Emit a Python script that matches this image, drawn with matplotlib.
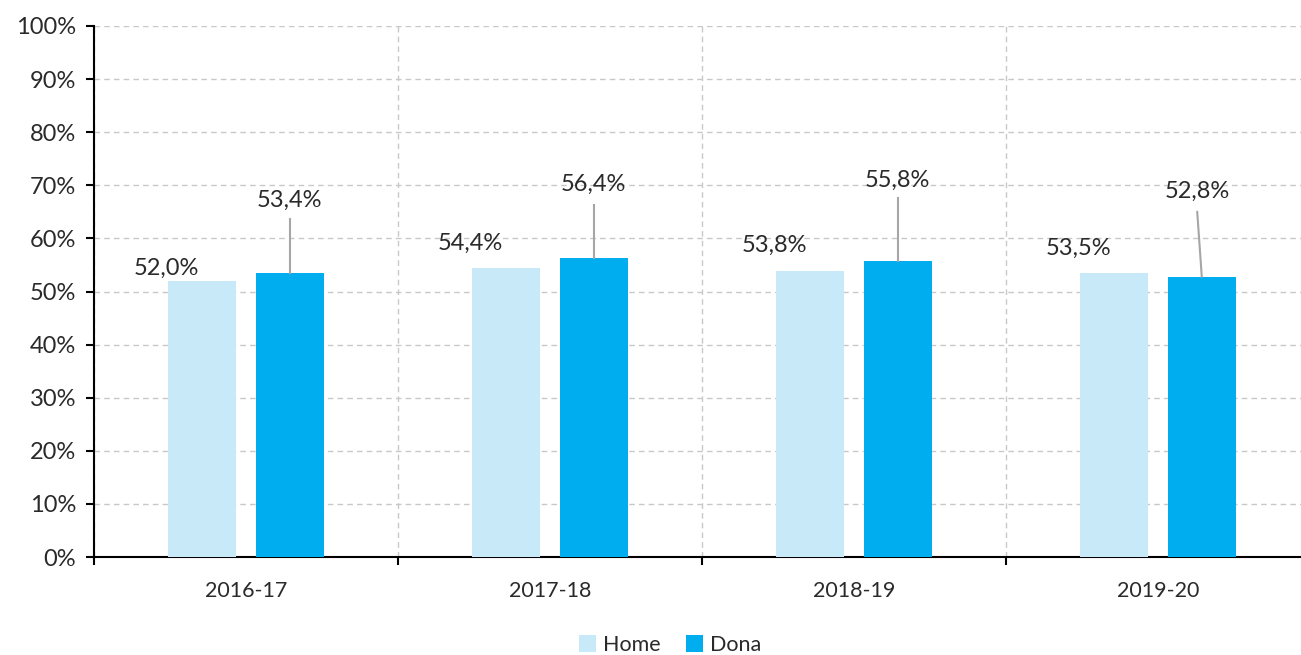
import matplotlib
matplotlib.use('Agg')
import matplotlib.pyplot as plt
import numpy as np

years = ['2016-17', '2017-18', '2018-19', '2019-20']
home = [52.0, 54.4, 53.8, 53.5]
dona = [53.4, 56.4, 55.8, 52.8]

# label placement (percent units)
home_label_y = [54.4, 59.1, 58.7, 58.1]
dona_label_y = [67.2, 70.1, 71.0, 68.9]
dona_line_top = [63.6, 66.3, 67.6, 65.0]
dona_label_dx = [0.0, 0.0, 0.0, -0.015]

plt.rcParams['font.family'] = ['Lato', 'DejaVu Sans']
txt = '#2a2a2a'

fig = plt.figure(figsize=(13.01, 6.55), dpi=100)
ax = fig.add_axes([94 / 1301, 1 - 557 / 655, 1216 / 1301, 531 / 655])

x = np.arange(len(years))
w = 0.224
off = 0.144
ax.bar(x - off, home, w, color='#C7E9F8', label='Home', zorder=3)
ax.bar(x + off, dona, w, color='#00AEEF', label='Dona', zorder=3)

fmt = lambda v: ('%.1f%%' % v).replace('.', ',')
for i in range(len(years)):
    ax.text(x[i] - off - 0.118, home_label_y[i], fmt(home[i]), ha='center', va='center',
            fontsize=17, color=txt, zorder=4)
    lx = x[i] + off + dona_label_dx[i]
    ax.plot([lx, x[i] + off], [dona_line_top[i], dona[i]], color='#A6A6A6', lw=1.5, zorder=4)
    ax.text(lx, dona_label_y[i], fmt(dona[i]), ha='center', va='center',
            fontsize=17, color=txt, zorder=4)

ax.set_xlim(-0.5, 3.5)
ax.set_ylim(0, 100)
ax.set_yticks(range(0, 101, 10))
ax.set_yticklabels(['%d%%' % v for v in range(0, 101, 10)])
ax.set_xticks(x)
ax.set_xticklabels(years)
ax.set_xticks(np.arange(-0.5, 3.6, 1), minor=True)
ax.tick_params(axis='x', which='major', length=0, pad=17, labelsize=15.5, labelcolor=txt)
ax.tick_params(axis='x', which='minor', length=6, width=1.5, direction='out')
ax.tick_params(axis='y', length=6, width=1.5, direction='out', labelsize=17, labelcolor=txt, pad=7)

ax.yaxis.grid(True, ls=(0, (4, 3)), color='#C8C8C8', lw=1, zorder=0)
ax.xaxis.grid(True, which='minor', ls=(0, (4, 3)), color='#C8C8C8', lw=1, zorder=0)
for s in ['top', 'right']:
    ax.spines[s].set_visible(False)
for s in ['left', 'bottom']:
    ax.spines[s].set_linewidth(1.5)

fig.legend(loc='center', bbox_to_anchor=(670 / 1301, 1 - 645 / 655), ncol=2, frameon=False,
           fontsize=15.5, handlelength=0.8, handleheight=0.8, handletextpad=0.3, columnspacing=1.2,
           labelcolor=txt)

fig.savefig('out.png', dpi=100)
